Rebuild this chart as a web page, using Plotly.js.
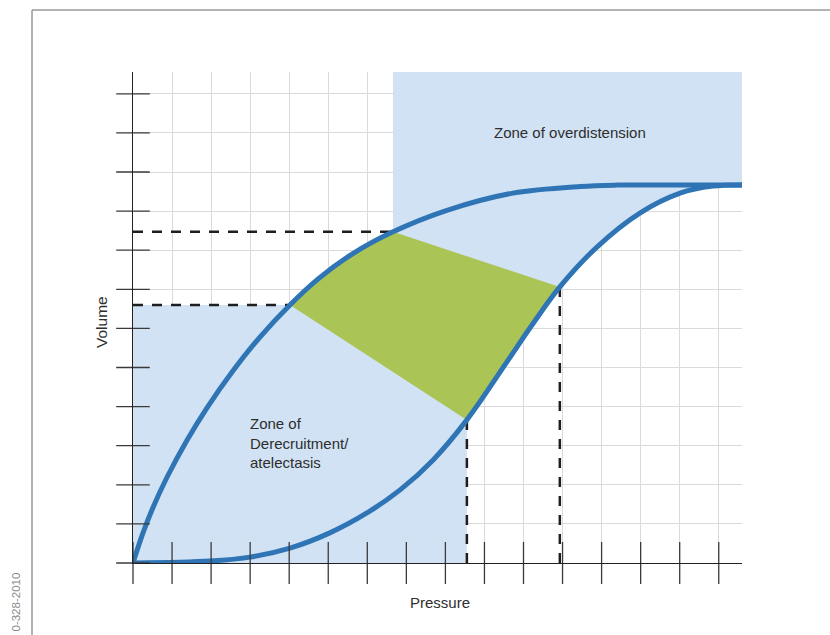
<!DOCTYPE html>
<html><head><meta charset="utf-8">
<script src="https://cdn.plot.ly/plotly-3.0.1.min.js"></script>
<style>html,body{margin:0;padding:0;background:#fff;} #chart{width:830px;height:635px;}</style>
</head><body><div id="chart"></div>
<script>
// Inflation limb (lower curve) (grid units)
const inflationPressure = [0, 1.97, 3.0, 4.02, 5.04, 5.99, 6.84, 7.68, 8.55, 9.58, 10.2, 10.93, 11.88, 12.98, 14.01, 14.85, 15.6];
const inflationVolume   = [0, 0.05, 0.15, 0.38, 0.77, 1.28, 1.87, 2.63, 3.66, 5.15, 6.06, 7.06, 8.08, 8.95, 9.46, 9.64, 9.67];
// Deflation limb (upper curve)
const deflationPressure = [0, 0.256, 0.512, 0.871, 1.383, 1.895, 2.561, 3.252, 4.02, 4.75, 5.6, 6.658, 8.04, 9.73, 11.45, 12.4, 14.0, 15.6];
const deflationVolume   = [0, 0.768, 1.421, 2.193, 3.14, 3.969, 4.915, 5.779, 6.6, 7.273, 7.894, 8.47, 9.02, 9.46, 9.63, 9.665, 9.67, 9.67];
// Indices of the corner points of the green (safe) zone
const deflationLowIdx = 8, deflationHighIdx = 11;
const inflationLowIdx = 8, inflationHighIdx = 11;
// Grid ticks
const xTicks = [0,1,2,3,4,5,6,7,8,9,10,11,12,13,14,15];
const yTicks = [0,1,2,3,4,5,6,7,8,9,10,11,12];
const zoneLabels = ['Zone of overdistension', 'Zone of<br>Derecruitment/<br>atelectasis'];
const axisLabels = ['Pressure', 'Volume'];
const stampText = '0-328-2010';

const X_MAX = 609/39.05, Y_MAX = 491/39.1;
const BLUE = '#2f75b5', FILL = '#d1e2f4', GREEN = '#aac556', FONT = 'Liberation Sans, Arial, sans-serif';

const Ax = deflationPressure[deflationLowIdx], Ay = deflationVolume[deflationLowIdx];
const Bx = deflationPressure[deflationHighIdx], By = deflationVolume[deflationHighIdx];
const Cx = inflationPressure[inflationHighIdx], Cy = inflationVolume[inflationHighIdx];
const Dx = inflationPressure[inflationLowIdx], Dy = inflationVolume[inflationLowIdx];
const lastP = deflationPressure[deflationPressure.length-1];

const traces = [];
// loop fill
traces.push({x: inflationPressure, y: inflationVolume, mode:'lines', line:{width:0, shape:'spline', color:FILL}, hoverinfo:'skip'});
traces.push({x: deflationPressure, y: deflationVolume, mode:'lines', line:{width:0, shape:'spline', color:FILL}, fill:'tonexty', fillcolor:FILL, hoverinfo:'skip'});
// overdistension zone
{
  const xs = [Bx, lastP], ys = [Y_MAX, Y_MAX];
  for (let i = deflationPressure.length-1; i >= deflationHighIdx; i--) { xs.push(deflationPressure[i]); ys.push(deflationVolume[i]); }
  traces.push({x: xs, y: ys, mode:'lines', line:{width:0}, fill:'toself', fillcolor:FILL, hoverinfo:'skip'});
}
// derecruitment zone
traces.push({x:[0, Dx, Dx, 0], y:[0, 0, Ay, Ay], mode:'lines', line:{width:0}, fill:'toself', fillcolor:FILL, hoverinfo:'skip'});
// green zone
{
  const xs = [], ys = [];
  for (let i = deflationLowIdx; i <= deflationHighIdx; i++) { xs.push(deflationPressure[i]); ys.push(deflationVolume[i]); }
  for (let i = inflationHighIdx; i >= inflationLowIdx; i--) { xs.push(inflationPressure[i]); ys.push(inflationVolume[i]); }
  traces.push({x: xs, y: ys, mode:'lines', line:{width:0}, fill:'toself', fillcolor:GREEN, hoverinfo:'skip'});
}
// dashed reference lines
const dash = {color:'#1e1e1e', width:2.5, dash:'10px,9px'};
traces.push({x:[0, Bx], y:[By, By], mode:'lines', line:dash});
traces.push({x:[0, Ax], y:[Ay, Ay], mode:'lines', line:dash});
traces.push({x:[Dx, Dx], y:[Dy, 0], mode:'lines', line:dash});
traces.push({x:[Cx, Cx], y:[Cy, 0], mode:'lines', line:dash});
// curves
traces.push({x: inflationPressure, y: inflationVolume, mode:'lines', line:{width:5, shape:'spline', color:BLUE}});
traces.push({x: deflationPressure, y: deflationVolume, mode:'lines', line:{width:5, shape:'spline', color:BLUE}});
// crossing tick marks
traces.push({x: xTicks, y: xTicks.map(()=>0), mode:'markers', cliponaxis:false,
  marker:{symbol:'line-ns', size:30, line:{width:1.3, color:'#3a3a3a'}}});
traces.push({x: yTicks.map(()=>0), y: yTicks, mode:'markers', cliponaxis:false,
  marker:{symbol:'line-ew', size:24, line:{width:1.3, color:'#3a3a3a'}}});

const W = 609, H = 491, L = 133, T = 72;
const px = v => (v - L)/W, py = v => (T + H - v)/H;

const layout = {
  width:830, height:635, margin:{l:133, r:88, t:72, b:72},
  paper_bgcolor:'#fff', plot_bgcolor:'#fff', showlegend:false,
  font:{family:FONT, color:'#333'},
  xaxis:{range:[0, X_MAX], tickvals:xTicks, showticklabels:false, ticks:'', showgrid:true, gridcolor:'#dadada', gridwidth:1,
         zeroline:false, showline:true, linecolor:'#222', linewidth:1.3, fixedrange:true},
  yaxis:{range:[0, Y_MAX], tickvals:yTicks, showticklabels:false, ticks:'', showgrid:true, gridcolor:'#dadada', gridwidth:1,
         zeroline:false, showline:true, linecolor:'#222', linewidth:1.3, fixedrange:true},
  shapes:[
    {type:'line', xref:'paper', yref:'paper', x0:px(32), x1:px(32), y0:py(10), y1:py(640), line:{color:'#9a9a9a', width:1.5}},
    {type:'line', xref:'paper', yref:'paper', x0:px(32), x1:px(835), y0:py(10), y1:py(10), line:{color:'#9a9a9a', width:1.5}}
  ],
  annotations:[
    {text:zoneLabels[0], x:11.19, y:11.02, xref:'x', yref:'y', showarrow:false, xanchor:'center', yanchor:'middle', font:{size:15, family:FONT, color:'#2e2e2e'}},
    {text:zoneLabels[1], x:2.945, y:3.07, xref:'x', yref:'y', showarrow:false, xanchor:'left', yanchor:'middle', align:'left', font:{size:15, family:FONT, color:'#2e2e2e'}},
    {text:axisLabels[0], x:px(440), y:py(602), xref:'paper', yref:'paper', showarrow:false, xanchor:'center', yanchor:'middle', font:{size:15, family:FONT, color:'#2e2e2e'}},
    {text:axisLabels[1], x:px(101), y:py(322), xref:'paper', yref:'paper', showarrow:false, textangle:-90, xanchor:'center', yanchor:'middle', font:{size:15.5, family:FONT, color:'#2e2e2e'}},
    {text:stampText, x:px(15), y:py(570), xref:'paper', yref:'paper', showarrow:false, textangle:-90, xanchor:'center', yanchor:'top', font:{size:11.5, family:FONT, color:'#8a8a8a'}}
  ]
};

Plotly.newPlot('chart', traces, layout, {displayModeBar:false, staticPlot:true});
</script></body></html>
